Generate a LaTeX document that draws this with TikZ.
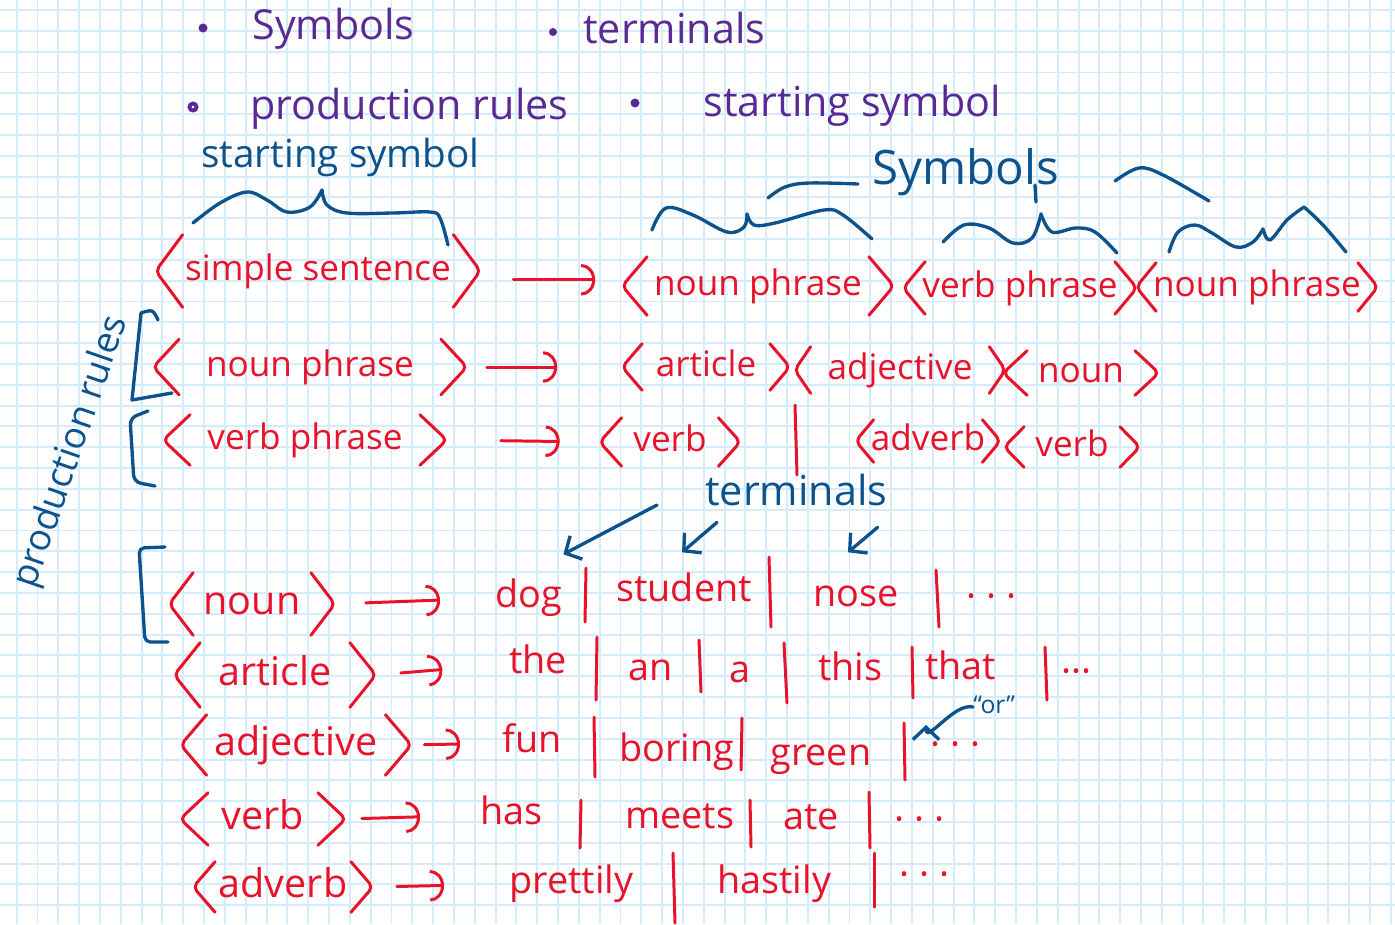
\documentclass[tikz,border=0pt]{standalone}
\usepackage{fontspec}
\setmainfont{Open Sans}
\usetikzlibrary{arrows.meta, calc}

\definecolor{inkred}{RGB}{232,18,42}
\definecolor{inkblue}{RGB}{12,82,140}
\definecolor{inkpurple}{RGB}{90,42,148}
\definecolor{gridblue}{RGB}{212,236,251}

% angle brackets round a nonterminal node
\newcommand\chev[2][24]{%
  \draw[redpen] ($(#2.north west)+(#1,0)$) -- (#2.west) -- ($(#2.south west)+(#1,0)$);
  \draw[redpen] ($(#2.north east)+(-#1,0)$) -- (#2.east) -- ($(#2.south east)+(-#1,0)$);}

\begin{document}
\begin{tikzpicture}[x=0.02cm, y=-0.02cm,
    gridline/.style={draw=gridblue, line width=1.1pt},
    redpen/.style={draw=inkred, line width=1.7pt, line cap=round, line join=round, rounded corners=3pt},
    bluepen/.style={draw=inkblue, line width=1.9pt, line cap=round, line join=round},
    redarrow/.style={redpen, -{Arc Barb[length=8pt, width=18pt]}},
    bluearrow/.style={bluepen, -{Straight Barb[length=7pt, width=15pt]}},
    sized/.style={font=\fontsize{#1}{#1}\selectfont, text height={0.72*#1pt}, text depth={0.2*#1pt}},
    word/.style={inner sep=0pt, anchor=west},
    redword/.style={word, text=inkred, sized=21.5},
    blueword/.style={word, text=inkblue},
    listword/.style={word, text=inkpurple, sized=23.5},
    nonterm/.style={inner sep=0pt, text=inkred, sized=20},
    bignonterm/.style={nonterm, sized=22.5}
]
\useasboundingbox (0,0) rectangle (1395,924);
\fill[white] (0,0) rectangle (1395,924);
% squared paper
\foreach \i in {0,...,66}
  \draw[gridline] ({16.7+20.82*\i},0) -- ++(0,924);
\foreach \j in {0,...,43}
  \draw[gridline] (0,{10+20.82*\j}) -- ++(1395,0);

% the four parts of a grammar
\fill[inkpurple] (203,28) circle (4.5);
\node[listword] (lsym) at (252,29) {Symbols};
\fill[inkpurple] (553,32) circle (4);
\node[listword] (lterm) at (583,33) {terminals};
\draw[inkpurple, line width=2.2pt] (193,107) circle (3.5);
\node[listword] (lprod) at (250,109) {production rules};
\fill[inkpurple] (635,103) circle (4.5);
\node[listword] (lstart) at (703,106) {starting symbol};

% rule 1
\node[nonterm, minimum width=6.48cm, minimum height=1.44cm] (ss) at (318,271) {simple sentence};
\node[nonterm, minimum width=5.42cm, minimum height=1.16cm] (np1) at (758,286) {noun phrase};
\node[nonterm, minimum width=4.66cm, minimum height=1.04cm] (vp1) at (1020,288) {verb phrase};
\node[nonterm, minimum width=4.82cm, minimum height=0.96cm] (np2) at (1257,287) {noun phrase};
\chev[27]{ss} \chev[25]{np1} \chev[22]{vp1} \chev[20]{np2}
\draw[redarrow, shorten <=0.66cm, shorten >=0.54cm] ([yshift=-5pt]ss.east) -- ([yshift=-5pt]ss.east -| np1.west);

% rule 2
\node[nonterm, minimum width=6.26cm, minimum height=1.1cm] (np) at (310,367) {noun phrase};
\node[nonterm, minimum width=3.34cm, minimum height=0.92cm] (art1) at (706,367) {article};
\node[nonterm, minimum width=4.2cm, minimum height=0.92cm] (adj1) at (900,370) {adjective};
\node[nonterm, minimum width=3.1cm, minimum height=0.88cm] (noun1) at (1081,373) {noun};
\chev[26]{np} \chev[20]{art1} \chev[16]{adj1} \chev[24]{noun1}
\draw[redarrow, shorten <=0.4cm, shorten >=1.3cm] (np.east) -- (art1.west);

% rule 3
\node[nonterm, minimum width=5.66cm, minimum height=1cm] (vp) at (305,440) {verb phrase};
\node[nonterm, minimum width=2.8cm, minimum height=0.96cm] (verb1) at (670,442) {verb};
\node[nonterm, minimum width=2.88cm, minimum height=0.84cm] (adv1) at (928,441) {adverb};
\node[nonterm, minimum width=2.7cm, minimum height=0.8cm] (verb2) at (1072,447) {verb};
\chev[27]{vp} \chev[22]{verb1} \chev[18]{adv1} \chev[20]{verb2}
\draw[redarrow, shorten <=1.08cm, shorten >=0.8cm] (vp.east) -- (verb1.west);

% rules for the terminals
\node[bignonterm, minimum width=3.3cm, minimum height=1.24cm] (noun) at (252,604) {noun};
\node[bignonterm, minimum width=4.02cm, minimum height=1.28cm] (art) at (275,675) {article};
\node[bignonterm, minimum width=4.6cm, minimum height=1.2cm] (adj) at (296,745) {adjective};
\node[bignonterm, minimum width=3.3cm, minimum height=1.04cm] (verb) at (263,819) {verb};
\node[bignonterm, minimum width=3.58cm, minimum height=1cm] (adv) at (283,887) {adverb};
\chev{noun} \chev[26]{art} \chev[26]{adj} \chev[28]{verb} \chev[22]{adv}

\node[redword] (dog) at (495,598) {dog};
\node[redword] (student) at (616,592) {student};
\node[redword] (nose) at (813,597) {nose};
\node[redword] (dots4) at (966,600) {· · ·};
\node[redword] (the) at (509,664) {the};
\node[redword] (an) at (628,671) {an};
\node[redword] (a) at (729,673) {a};
\node[redword] (this) at (818,671) {this};
\node[redword] (that) at (925,670) {that};
\node[redword] (dots5) at (1061,675) {···};
\node[redword] (fun) at (502,743) {fun};
\node[redword] (boring) at (619,752) {boring};
\node[redword] (green) at (770,756) {green};
\node[redword] (dots6) at (930,748) {· · ·};
\node[redword] (has) at (480,815) {has};
\node[redword] (meets) at (625,819) {meets};
\node[redword] (ate) at (783,820) {ate};
\node[redword] (dots7) at (894,823) {· · ·};
\node[redword] (prettily) at (509,884) {prettily};
\node[redword] (hastily) at (717,884) {hastily};
\node[redword] (dots8) at (899,878) {· · ·};

\draw[redarrow, shorten <=0.62cm, shorten >=1.1cm] (noun.east) -- (dog.west);
\draw[redarrow, shorten <=0.5cm, shorten >=1.34cm] (art.east) -- (the.west);
\draw[redarrow, shorten <=0.26cm, shorten >=0.84cm] (adj.east) -- (fun.west);
\draw[redarrow, shorten <=0.32cm, shorten >=1.2cm] (verb.east) -- (has.west);
\draw[redarrow, shorten <=0.48cm, shorten >=1.3cm] (adv.east) -- (prettily.west);

% the "or" bars
\foreach \xa/\ya/\xb/\yb in {795/405/797/475,
    586/568/585/622, 769/557/771/627, 936/570/939/627,
    597/637/596/700, 699/640/701/692, 784/643/787/703, 912/647/913/698, 1045/647/1047/700,
    594/717/595/777, 742/718/741/770, 904/723/905/780,
    581/800/580/848, 750/800/751/847, 869/792/870/848,
    673/853/675/923, 874/853/874/907}
  \draw[redpen] (\xa,\ya) -- (\xb,\yb);

% notes in blue
\node[blueword, sized=22] (startlbl) at (201,157) {starting symbol};
\draw[bluepen] plot[smooth, tension=0.6] coordinates {(193,223) (220,203) (247,192) (267,200) (287,212) (310,207) (322,190)};
\draw[bluepen] plot[smooth, tension=0.6] coordinates {(322,190) (327,205) (347,213) (393,213) (430,212) (440,218) (448,245)};

\node[blueword, sized=27] (symlbl) at (872,172) {Symbols};
\draw[bluepen] plot[smooth, tension=0.6] coordinates {(768,198) (785,187) (809,183) (858,184)};
\draw[bluepen] (1035,185) -- (1036,202);
\draw[bluepen] plot[smooth, tension=0.6] coordinates {(1115,181) (1139,168) (1163,175) (1209,201)};
\draw[bluepen] plot[smooth, tension=0.6] coordinates {(652,230) (666,208) (693,215) (727,232) (744,227) (747,214)};
\draw[bluepen] plot[smooth, tension=0.6] coordinates {(747,214) (754,225) (775,223) (824,210) (843,215) (872,239)};
\draw[bluepen] plot[smooth, tension=0.6] coordinates {(943,242) (964,225) (989,228) (1013,243) (1032,238) (1041,214)};
\draw[bluepen] plot[smooth, tension=0.6] coordinates {(1041,214) (1052,232) (1076,228) (1095,232) (1117,253)};
\draw[bluepen] plot[smooth, tension=0.6] coordinates {(1169,252) (1178,232) (1195,225) (1212,233) (1236,247) (1253,242) (1263,229)};
\draw[bluepen] plot[smooth, tension=0.6] coordinates {(1263,229) (1270,240) (1287,220) (1304,207)};
\draw[bluepen] plot[smooth, tension=0.6] coordinates {(1304,207) (1323,225) (1346,252)};

\node[blueword, anchor=center, rotate=71, sized=21] (prodlbl) at (72,452) {production rules};
\draw[bluepen] plot[smooth, tension=0.6] coordinates {(158,320) (152,311) (141,313)} -- (132,400) -- (172,393);
\draw[bluepen, rounded corners=4pt] (148,411) -- (130,418) -- (134,482) -- (155,486);
\draw[bluepen, rounded corners=3pt] (165,547) -- (139,548) -- (145,642) -- (168,642);

\node[blueword, sized=23.5] (termlbl) at (705,495) {terminals};
\draw[bluearrow] ([shift={(-48,10)}]termlbl.west) -- ([shift={(1,-26)}]dog.north east);
\draw[bluearrow] ([shift={(12,8)}]termlbl.south west) -- ([shift={(-2,-22)}]student.north);
\draw[bluearrow] ([shift={(-10,13)}]termlbl.south east) -- ([shift={(-8,-27)}]nose.north);

\node[blueword, sized=14] (orlbl) at (973,707) {“or”};
\coordinate (ortip) at (926,725);
\draw[bluearrow] (orlbl.west) to[out=166, in=270] (ortip);
\end{tikzpicture}
\end{document}
